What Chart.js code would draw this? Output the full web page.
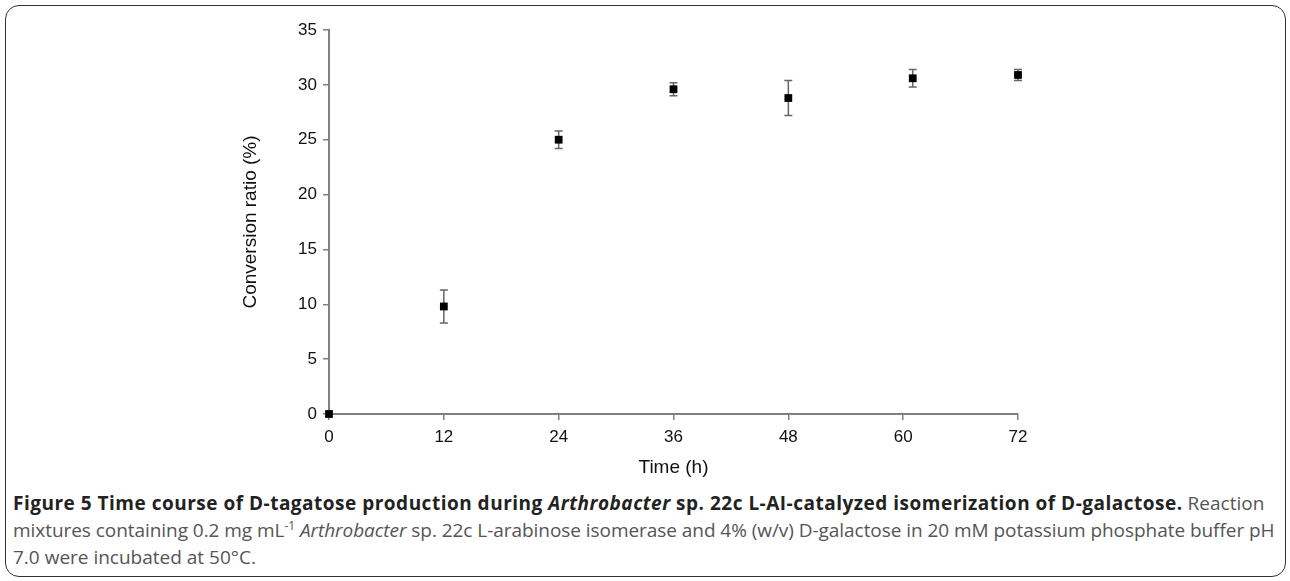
<!DOCTYPE html>
<html>
<head>
<meta charset="utf-8">
<script src="https://cdn.jsdelivr.net/npm/chart.js@4.4.1/dist/chart.umd.min.js"></script>
<style>
  html, body { margin: 0; padding: 0; background: #fff; }
  body { width: 1290px; height: 581px; position: relative; overflow: hidden; }
  #frame {
    position: absolute; left: 5px; top: 5px; width: 1281px; height: 572px;
    border: 1.5px solid #333; border-radius: 14px; box-sizing: border-box;
  }
  #wrap { position: absolute; left: 0; top: 0; width: 1290px; height: 485px; }
  #caption {
    position: absolute; left: 13px; top: 490px; width: 1275px;
    font-family: "Open Sans", sans-serif; font-size: 19px; line-height: 27px;
    color: #555; white-space: nowrap;
  }
  #caption b { color: #222; letter-spacing: 0.5px; }
  #caption .n { letter-spacing: -0.05px; }
  #caption sup { font-size: 12px; line-height: 0; vertical-align: 7px; }
</style>
</head>
<body>
<div id="frame"></div>
<div id="wrap"><canvas id="chart"></canvas></div>
<div id="caption">
  <b>Figure 5 Time course of D-tagatose production during <i>Arthrobacter</i> sp. 22c L-AI-catalyzed isomerization of D-galactose.</b> Reaction<br>
  <span class="n">mixtures containing 0.2 mg mL<sup>-1</sup> <i>Arthrobacter</i> sp. 22c L-arabinose isomerase and 4% (w/v) D-galactose in 20 mM potassium phosphate buffer pH</span><br>
  7.0 were incubated at 50°C.
</div>
<script>
// data
const times = [0, 12, 24, 36, 48, 61, 72];
const conversion = [0, 9.8, 25.0, 29.6, 28.8, 30.6, 30.9];
const errors = [0, 1.5, 0.8, 0.6, 1.6, 0.8, 0.5];
const xTicks = [0, 12, 24, 36, 48, 60, 72];
const yTicks = [0, 5, 10, 15, 20, 25, 30, 35];

const axisFont = { family: "'Liberation Sans', Arial, sans-serif", size: 17 };
const titleFont = { family: "'Liberation Sans', Arial, sans-serif", size: 19 };

// vertical error bars drawn from the errors array via the chart scales
const errorBars = {
  id: 'errorBars',
  beforeDatasetsDraw(chart) {
    const ctx = chart.ctx;
    const xs = chart.scales.x, ys = chart.scales.y;
    ctx.save();
    ctx.strokeStyle = '#666';
    ctx.lineWidth = 1.5;
    for (let i = 0; i < times.length; i++) {
      if (!errors[i]) continue;
      const px = xs.getPixelForValue(times[i]);
      const top = ys.getPixelForValue(conversion[i] + errors[i]);
      const bot = ys.getPixelForValue(conversion[i] - errors[i]);
      ctx.beginPath();
      ctx.moveTo(px, top); ctx.lineTo(px, bot);
      ctx.moveTo(px - 4, top); ctx.lineTo(px + 4, top);
      ctx.moveTo(px - 4, bot); ctx.lineTo(px + 4, bot);
      ctx.stroke();
    }
    ctx.restore();
  }
};

new Chart(document.getElementById('chart'), {
  type: 'scatter',
  data: {
    datasets: [{
      data: times.map((t, i) => ({ x: t, y: conversion[i] })),
      pointStyle: 'rect',
      pointRadius: 5.5,
      backgroundColor: '#000',
      borderColor: '#000',
      borderWidth: 0,
      clip: false
    }]
  },
  plugins: [errorBars],
  options: {
    responsive: true,
    maintainAspectRatio: false,
    animation: false,
    layout: { padding: { left: 235, right: 272, top: 30, bottom: 2 } },
    plugins: {
      legend: { display: false },
      tooltip: { enabled: false }
    },
    scales: {
      x: {
        type: 'linear',
        min: 0, max: 72,
        afterBuildTicks: (s) => { s.ticks = xTicks.map(v => ({ value: v })); },
        afterFit: (s) => { s.height = 69; },
        border: { color: '#808080', width: 2 },
        grid: { drawOnChartArea: false, tickLength: 6, color: '#808080', lineWidth: 1.5 },
        ticks: { color: '#111', font: axisFont, padding: 7, maxRotation: 0 },
        title: { display: true, text: 'Time (h)', color: '#111', font: titleFont, padding: { top: 4, bottom: 4 } }
      },
      y: {
        min: 0, max: 35,
        afterBuildTicks: (s) => { s.ticks = yTicks.map(v => ({ value: v })); },
        afterFit: (s) => { s.width = 94; },
        border: { color: '#808080', width: 2 },
        grid: { drawOnChartArea: false, tickLength: 6, color: '#808080', lineWidth: 1.5 },
        ticks: { color: '#111', font: axisFont, padding: 6 },
        title: { display: true, text: 'Conversion ratio (%)', color: '#111', font: titleFont, padding: { top: 4, bottom: 4 } }
      }
    }
  }
});
</script>
</body>
</html>
